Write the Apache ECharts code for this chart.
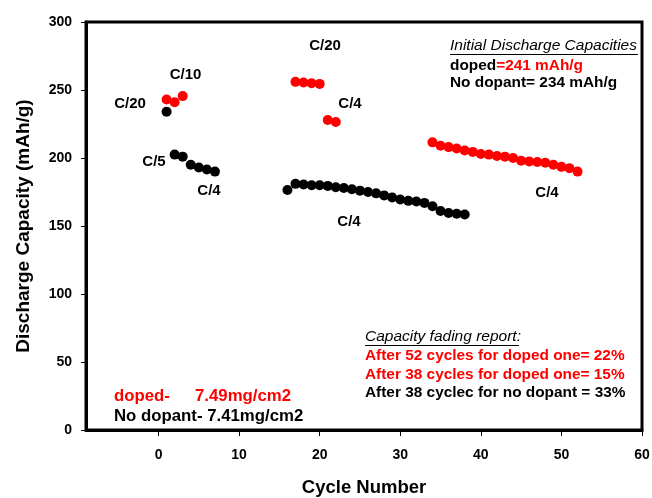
<!DOCTYPE html>
<html>
<head>
<meta charset="utf-8">
<script src="https://cdn.jsdelivr.net/npm/echarts@6/dist/echarts.min.js"></script>
<style>
html,body{margin:0;padding:0;background:#fff;}
#chart{width:652px;height:498px;}
</style>
</head>
<body>
<div id="chart"></div>
<script>
// ---- data ----
const dopedCycles = [1,2,3,17,18,19,20,21,22,34,35,36,37,38,39,40,41,42,43,44,45,46,47,48,49,50,51,52];
const dopedValues = [243,241,245.5,256,255.5,255,254.5,228,226.5,211.5,209,208,207,205.5,204.5,203,202.5,201.5,201,200,198,197.5,197,196.5,195,193.5,192.5,190];
const noDopantCycles = [1,2,3,4,5,6,7,16,17,18,19,20,21,22,23,24,25,26,27,28,29,30,31,32,33,34,35,36,37,38];
const noDopantValues = [234,202.5,201,195,193,191.5,190,176.5,181,180.5,180,180,179.5,178.5,178,177,176,175,174,172.5,171,169.5,168.5,168,167,164.5,161,159.5,159,158.5];
const xTickLabels = [0,10,20,30,40,50,60];
const yTickLabels = [0,50,100,150,200,250,300];

const FONT = 'Liberation Sans, Arial, sans-serif';
const toPairs = (xs, ys) => xs.map((x, i) => [x, ys[i]]);

const chart = echarts.init(document.getElementById('chart'), null, {renderer: 'canvas'});

function label(text, x, y, color, size, align) {
  return {
    type: 'text', x: x, y: y, silent: true,
    style: {
      text: text, fill: color || '#000',
      font: 'bold ' + (size || 15) + 'px ' + FONT,
      textAlign: align || 'center', textVerticalAlign: 'middle'
    }
  };
}

const option = {
  backgroundColor: '#fff',
  animation: false,
  grid: {left: 86, right: 10, top: 22, bottom: 68, show: true, borderColor: '#000', borderWidth: 3,
         containLabel: false, outerBoundsMode: 'none'},
  xAxis: {
    type: 'value', min: -9, max: 60,
    name: 'Cycle Number', nameLocation: 'middle', nameGap: 48,
    nameTextStyle: {fontFamily: FONT, fontWeight: 'bold', fontSize: 18.5, color: '#000'},
    axisLine: {show: true, onZero: false, lineStyle: {color: '#000', width: 3}},
    axisTick: {show: true, inside: false, length: 6, customValues: xTickLabels, lineStyle: {color: '#000', width: 1}},
    axisLabel: {customValues: xTickLabels, margin: 18, fontFamily: FONT, fontWeight: 'bold', fontSize: 14, color: '#000'},
    splitLine: {show: false}
  },
  yAxis: {
    type: 'value', min: 0, max: 300, interval: 50,
    name: 'Discharge Capacity (mAh/g)', nameLocation: 'middle', nameGap: 53,
    nameTextStyle: {fontFamily: FONT, fontWeight: 'bold', fontSize: 19, color: '#000'},
    axisLine: {show: true, onZero: false, lineStyle: {color: '#000', width: 3}},
    axisTick: {show: true, inside: false, length: 5, lineStyle: {color: '#000', width: 1}},
    axisLabel: {margin: 14, fontFamily: FONT, fontWeight: 'bold', fontSize: 14, color: '#000',
      formatter: v => yTickLabels.indexOf(v) >= 0 ? String(v) : ''},
    splitLine: {show: false}
  },
  series: [
    {name: 'doped', type: 'scatter', symbol: 'circle', symbolSize: 10,
     itemStyle: {color: '#ff0000', opacity: 1}, data: toPairs(dopedCycles, dopedValues)},
    {name: 'No dopant', type: 'scatter', symbol: 'circle', symbolSize: 10,
     itemStyle: {color: '#000000', opacity: 1}, data: toPairs(noDopantCycles, noDopantValues)}
  ],
  graphic: [
    label('C/20', 130, 104),
    label('C/10', 185.5, 75),
    label('C/5', 154, 162),
    label('C/4', 209, 191),
    label('C/20', 325, 46),
    label('C/4', 350, 104),
    label('C/4', 349, 222),
    label('C/4', 547, 193),
    {type: 'text', x: 450, y: 46, silent: true,
     style: {text: 'Initial Discharge Capacities', fill: '#000', font: 'italic 15.5px ' + FONT, textAlign: 'left', textVerticalAlign: 'middle'}},
    {type: 'line', silent: true, shape: {x1: 450, y1: 54.5, x2: 638, y2: 54.5}, style: {stroke: '#000', lineWidth: 1}},
    {type: 'text', x: 450, y: 66, silent: true,
     style: {text: '{k|doped}{r|=241 mAh/g}', textAlign: 'left', textVerticalAlign: 'middle',
       rich: {k: {fill: '#000', font: 'bold 15.4px ' + FONT}, r: {fill: '#ff0000', font: 'bold 15.4px ' + FONT}}}},
    label('No dopant= 234 mAh/g', 450, 83, '#000', 15.4, 'left'),
    {type: 'text', x: 365, y: 337, silent: true,
     style: {text: 'Capacity fading report:', fill: '#000', font: 'italic 15.5px ' + FONT, textAlign: 'left', textVerticalAlign: 'middle'}},
    {type: 'line', silent: true, shape: {x1: 365, y1: 345.5, x2: 519, y2: 345.5}, style: {stroke: '#000', lineWidth: 1}},
    label('After 52 cycles for doped one= 22%', 365, 356, '#ff0000', 15.4, 'left'),
    label('After 38 cycles for doped one= 15%', 365, 375, '#ff0000', 15.4, 'left'),
    label('After 38 cyclec for no dopant = 33%', 365, 393, '#000', 15.4, 'left'),
    label('doped-', 114, 396, '#ff0000', 16.8, 'left'),
    label('7.49mg/cm2', 195, 396, '#ff0000', 16.8, 'left'),
    label('No dopant- 7.41mg/cm2', 114, 416, '#000', 16.8, 'left')
  ]
};
chart.setOption(option);
</script>
</body>
</html>
